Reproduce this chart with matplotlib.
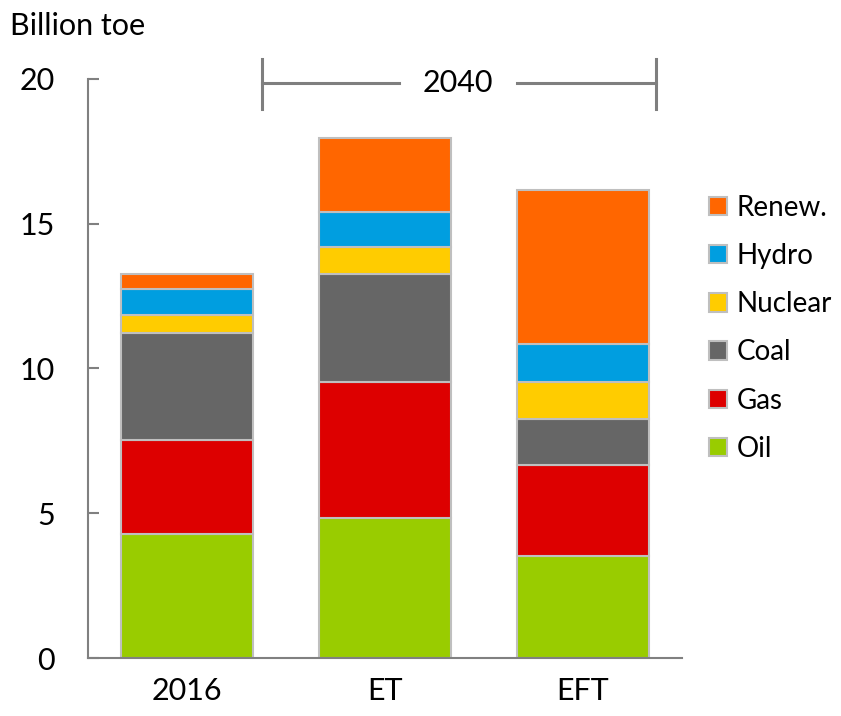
import matplotlib
matplotlib.use("Agg")
import matplotlib.pyplot as plt
from matplotlib.patches import Patch
import numpy as np

plt.rcParams['font.family'] = ['Lato', 'DejaVu Sans']

scenarios = ["2016", "ET", "EFT"]
fuels = ["Oil", "Gas", "Coal", "Nuclear", "Hydro", "Renew."]
colors = ["#99CC00", "#DD0000", "#666666", "#FFCC00", "#009EE0", "#FF6600"]

# cumulative tops, billion toe
oil = [4.28, 4.82, 3.54]
gas = [7.53 - 4.28, 9.52 - 4.82, 6.67 - 3.54]
coal = [11.23 - 7.53, 13.26 - 9.52, 8.26 - 6.67]
nuclear = [11.85 - 11.23, 14.21 - 13.26, 9.53 - 8.26]
hydro = [12.75 - 11.85, 15.42 - 14.21, 10.85 - 9.53]
renew = [13.26 - 12.75, 17.96 - 15.42, 16.18 - 10.85]
series = [oil, gas, coal, nuclear, hydro, renew]

fs = 22

fig = plt.figure(figsize=(8.41, 7.16), dpi=100)
ax = fig.add_axes([0.1046, 0.081, 0.7064, 0.8087])

x = np.arange(len(scenarios))
bottom = np.zeros(len(scenarios))
for vals, c, name in zip(series, colors, fuels):
    ax.bar(x, vals, 0.665, bottom=bottom, color=c, edgecolor="#BFBFBF",
           linewidth=1.5, label=name)
    bottom += np.array(vals)

ax.set_xlim(-0.5, 2.5)
ax.set_ylim(0, 20)
ax.set_yticks([0, 5, 10, 15, 20])
ax.set_xticks(x)
ax.set_xticklabels(scenarios)
ax.tick_params(axis="y", direction="in", length=8, width=1.5, color="#808080",
               labelsize=fs, pad=24)
ax.tick_params(axis="x", length=0, labelsize=fs, pad=14)
for s in ["top", "right"]:
    ax.spines[s].set_visible(False)
for s in ["left", "bottom"]:
    ax.spines[s].set_color("#808080")
    ax.spines[s].set_linewidth(1.5)

fig.text(0.012, 0.963, "Billion toe", fontsize=fs, va="center", ha="left")

# 2040 bracket
gc = "#7F7F7F"
ax.plot([0.378, 0.378], [18.96, 20.69], color=gc, lw=2.2, clip_on=False)
ax.plot([2.368, 2.368], [18.96, 20.69], color=gc, lw=2.2, clip_on=False)
ax.plot([0.378, 1.07], [19.86, 19.86], color=gc, lw=2.2, clip_on=False)
ax.plot([1.665, 2.368], [19.86, 19.86], color=gc, lw=2.2, clip_on=False)
ax.text(1.37, 19.86, "2040", ha="center", va="center", fontsize=fs)

handles = [Patch(facecolor=c, edgecolor="#BFBFBF", linewidth=1.5, label=n)
           for c, n in zip(colors, fuels)][::-1]
fig.legend(handles=handles, loc="upper left", bbox_to_anchor=(0.843, 0.728),
           frameon=False, fontsize=20, handlelength=0.65, handleheight=0.65,
           handletextpad=0.35, labelspacing=0.8, borderaxespad=0,
           borderpad=0)

fig.savefig("out.png", dpi=100)
